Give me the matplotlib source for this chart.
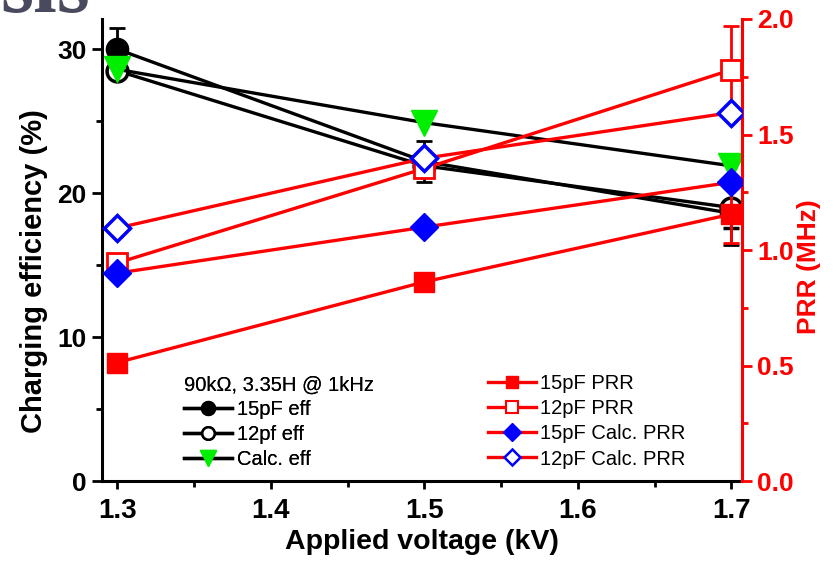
import matplotlib
matplotlib.use("Agg")
import matplotlib.pyplot as plt
from matplotlib.lines import Line2D
from matplotlib.ticker import MultipleLocator

plt.rcParams['font.family'] = ['Liberation Sans', 'DejaVu Sans']

# Data
voltage = [1.3, 1.5, 1.7]

eff_15pf = [30.0, 22.2, 18.6]
eff_15pf_err = [1.5, 1.4, 2.2]
eff_12pf = [28.5, 21.9, 19.0]
eff_12pf_err = [0.0, 0.0, 1.4]
eff_calc = [28.6, 24.9, 21.9]

prr_15pf = [0.513, 0.862, 1.155]
prr_15pf_err = [0.0, 0.02, 0.125]
prr_12pf = [0.944, 1.353, 1.78]
prr_12pf_err = [0.03, 0.0, 0.19]
prr_calc_15pf = [0.90, 1.099, 1.293]
prr_calc_12pf = [1.095, 1.397, 1.595]

eff_labels = ['15pF eff', '12pf eff', 'Calc. eff']
prr_labels = ['15pF PRR', '12pF PRR', '15pF Calc. PRR', '12pF Calc. PRR']

fig = plt.figure(figsize=(8.37, 5.62), dpi=100)
ax = fig.add_axes([0.1219, 0.1441, 0.7646, 0.8221])
ax2 = ax.twinx()

# left axis: efficiency
ax.errorbar(voltage, eff_15pf, yerr=eff_15pf_err, color='black', lw=2.4,
            marker='o', ms=16, mfc='black', mec='black', capsize=6, capthick=2,
            elinewidth=2, zorder=2)
ax.errorbar(voltage, eff_12pf, yerr=eff_12pf_err, color='black', lw=2.4,
            marker='o', ms=15, mfc='white', mec='black', mew=2.5, capsize=6,
            capthick=2, elinewidth=2, zorder=3)
ax.plot(voltage, eff_calc, color='black', lw=2.4, marker='v', ms=19,
        mfc='#00ee00', mec='#00ee00', zorder=4)

# right axis: PRR
ax2.errorbar(voltage, prr_15pf, yerr=prr_15pf_err, color='red', lw=2.4,
             marker='s', ms=14, mfc='red', mec='red', capsize=6, capthick=2,
             elinewidth=2, zorder=2)
ax2.errorbar(voltage, prr_12pf, yerr=prr_12pf_err, color='red', lw=2.4,
             marker='s', ms=14, mfc='white', mec='red', mew=2, capsize=6,
             capthick=2, elinewidth=2, zorder=3)
ax2.plot(voltage, prr_calc_15pf, color='red', lw=2.4, marker='D', ms=14,
         mfc='blue', mec='blue', zorder=4)
ax2.plot(voltage, prr_calc_12pf, color='red', lw=2.4, marker='D', ms=13,
         mfc='white', mec='blue', mew=2.5, zorder=5)

ax.set_xlim(1.29, 1.707)
ax.set_ylim(0, 32.1)
ax2.set_ylim(0, 2.0)

ax.set_xticks([1.3, 1.4, 1.5, 1.6, 1.7])
ax.set_xticklabels(['1.3', '1.4', '1.5', '1.6', '1.7'])
ax.xaxis.set_minor_locator(MultipleLocator(0.05))
ax.yaxis.set_major_locator(MultipleLocator(10))
ax.yaxis.set_minor_locator(MultipleLocator(5))
ax2.yaxis.set_major_locator(MultipleLocator(0.5))
ax2.yaxis.set_minor_locator(MultipleLocator(0.25))

for a in (ax, ax2):
    a.spines['top'].set_visible(False)
    for s in a.spines.values():
        s.set_linewidth(2.2)
ax.spines['right'].set_visible(False)
ax2.spines['left'].set_visible(False)
ax2.spines['bottom'].set_visible(False)
ax2.spines['right'].set_color('red')

ax.tick_params(axis='x', which='major', direction='out', length=6, width=2,
               labelsize=20, pad=6)
ax.tick_params(axis='x', which='minor', direction='out', length=4, width=2)
ax.tick_params(axis='y', which='major', direction='out', length=7, width=2,
               labelsize=19, pad=4)
ax.tick_params(axis='y', which='minor', direction='out', length=4.5, width=2)
ax2.tick_params(which='major', direction='out', length=7, width=2, labelsize=19,
                colors='red', pad=4)
ax2.tick_params(which='minor', direction='out', length=4.5, width=2, colors='red')
for lab in ax.get_xticklabels() + ax.get_yticklabels() + ax2.get_yticklabels():
    lab.set_fontweight('bold')

ax.set_xlabel('Applied voltage (kV)', fontsize=20.5, fontweight='bold', labelpad=4)
ax.set_ylabel('Charging efficiency (%)', fontsize=21, fontweight='bold')
ax.yaxis.set_label_coords(-0.085, 0.4545)
ax2.set_ylabel('PRR (MHz)', fontsize=19, fontweight='bold', color='red')
ax2.yaxis.set_label_coords(1.086, 0.463)

# legend handles
h_eff = [
    Line2D([], [], color='black', lw=2.4, marker='o', ms=10, mfc='black', mec='black'),
    Line2D([], [], color='black', lw=2.4, marker='o', ms=9, mfc='white', mec='black', mew=1.8),
    Line2D([], [], color='black', lw=2.4, marker='v', ms=12, mfc='#00ee00', mec='#00ee00'),
]
h_prr = [
    Line2D([], [], color='red', lw=2.4, marker='s', ms=9, mfc='red', mec='red'),
    Line2D([], [], color='red', lw=2.4, marker='s', ms=9, mfc='white', mec='red', mew=1.5),
    Line2D([], [], color='red', lw=2.4, marker='D', ms=9, mfc='blue', mec='blue'),
    Line2D([], [], color='red', lw=2.4, marker='D', ms=8, mfc='white', mec='blue', mew=1.8),
]

leg1 = ax.legend(h_eff, eff_labels, title='90k\u03a9, 3.35H @ 1kHz', alignment='left',
                 frameon=False, fontsize=14.5, title_fontsize=14.5,
                 handlelength=2.4, handletextpad=0.2, labelspacing=0.3,
                 loc='upper left', bbox_to_anchor=(0.1, 0.268))
ax.add_artist(leg1)
ax2.legend(h_prr, prr_labels, frameon=False, fontsize=14.5,
           handlelength=2.4, handletextpad=0.2, labelspacing=0.3,
           loc='upper left', bbox_to_anchor=(0.575, 0.27))

# clipped heading fragment at the top-left corner
fig.text(0.0, 1 - 12 / 562, 'sis', fontsize=61, fontweight='bold',
         family='Liberation Serif', color='#4a4a5e', va='baseline', ha='left')

fig.savefig('out.png', dpi=100)
